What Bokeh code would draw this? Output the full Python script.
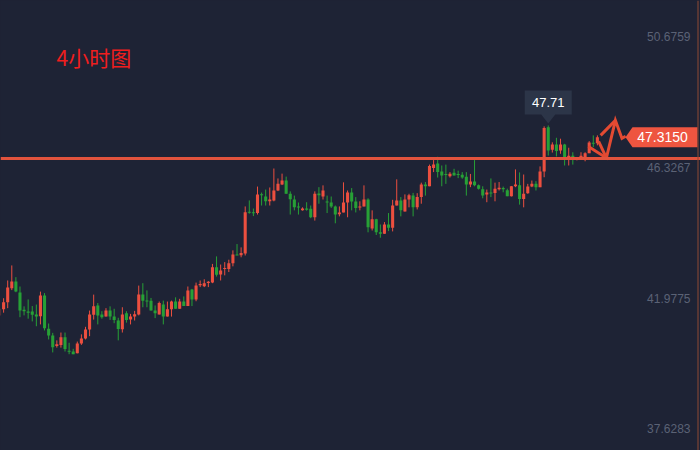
import numpy as np
from bokeh.plotting import figure
from bokeh.models import Range1d, Span, Label, ColumnDataSource
from bokeh.embed import file_html
from bokeh.resources import INLINE

# ---------------- data ----------------
opens = [41.40, 41.60, 41.84, 42.30, 42.53, 42.16, 41.59, 41.53, 41.53, 41.43,
         41.37, 42.06, 40.96, 40.73, 40.38, 40.42, 40.67, 40.22, 40.20, 40.14,
         40.47, 40.63, 40.93, 41.42, 41.73, 41.43, 41.36, 41.56, 41.36, 41.23,
         40.94, 41.47, 41.26, 41.36, 41.43, 42.09, 41.89, 41.89, 41.56, 41.43,
         41.76, 41.36, 41.60, 41.86, 41.62, 41.86, 41.71, 42.26, 41.93, 42.40,
         42.37, 42.48, 42.49, 43.00, 42.76, 42.94, 42.94, 43.13, 43.42, 43.40,
         43.46, 44.84, 44.82, 44.80, 45.42, 45.35, 45.19, 45.22, 45.55, 45.75,
         45.88, 45.44, 45.25, 45.02, 44.89, 44.95, 44.94, 44.66, 45.45, 45.35,
         45.18, 45.15, 45.02, 44.76, 44.82, 45.15, 45.48, 45.18, 44.99, 45.02,
         45.25, 44.29, 44.59, 44.16, 44.11, 44.42, 44.31, 45.05, 45.22, 44.85,
         45.25, 45.38, 44.99, 45.33, 45.75, 45.69, 46.30, 46.45, 46.18, 46.09,
         46.02, 46.14, 46.09, 46.07, 46.01, 45.75, 45.85, 45.72, 45.59, 45.42,
         45.48, 45.47, 45.59, 45.63, 45.56, 45.36, 45.69, 45.72, 45.27, 45.46,
         45.68, 45.77, 45.66, 46.18, 47.65, 46.90, 47.08, 46.88, 47.08, 46.64,
         46.70, 46.60, 46.66, 46.64, 46.79, 47.13, 47.12]
highs = [41.73, 41.97, 42.56, 43.06, 42.67, 42.36, 41.70, 41.93, 41.71, 41.76,
         42.19, 42.14, 41.13, 40.82, 40.57, 40.83, 40.83, 40.49, 40.29, 40.53,
         40.77, 41.02, 41.56, 42.09, 41.81, 41.54, 41.64, 41.70, 41.62, 41.32,
         41.67, 41.54, 41.45, 41.55, 42.39, 42.47, 42.23, 41.98, 41.73, 41.86,
         41.89, 41.86, 41.89, 42.00, 41.95, 42.03, 42.36, 42.28, 42.49, 42.56,
         42.60, 42.54, 43.11, 43.36, 43.09, 43.17, 43.25, 43.56, 43.77, 43.66,
         45.02, 45.22, 44.95, 45.68, 45.48, 45.58, 45.65, 46.28, 45.95, 46.11,
         46.01, 45.52, 45.38, 45.15, 44.99, 45.16, 45.05, 45.52, 45.66, 45.72,
         45.38, 45.35, 45.05, 45.02, 45.82, 45.55, 45.63, 45.33, 45.19, 45.72,
         45.29, 44.89, 44.61, 44.42, 44.50, 44.80, 45.24, 45.92, 45.33, 45.42,
         45.44, 45.47, 45.46, 45.81, 45.83, 46.41, 46.56, 46.67, 46.38, 46.41,
         46.16, 46.27, 46.21, 46.16, 46.16, 46.10, 46.56, 45.75, 45.69, 45.58,
         45.95, 45.81, 45.83, 45.68, 45.61, 45.70, 46.25, 46.15, 46.08, 45.77,
         45.88, 45.86, 46.35, 47.68, 47.71, 47.15, 47.30, 47.27, 47.10, 46.97,
         46.82, 46.66, 46.82, 46.82, 47.19, 47.38, 47.38]
lows = [41.29, 41.49, 41.64, 42.24, 42.17, 41.34, 41.40, 41.29, 41.20, 41.04,
        41.10, 40.90, 40.60, 40.17, 40.33, 40.33, 40.20, 40.11, 40.11, 40.14,
        40.42, 40.60, 40.71, 41.26, 41.10, 41.29, 41.36, 41.25, 41.14, 40.57,
        40.83, 41.16, 41.10, 41.23, 41.40, 41.67, 41.67, 41.56, 41.31, 41.43,
        41.10, 41.36, 41.36, 41.62, 41.62, 41.71, 41.71, 41.71, 41.87, 42.34,
        42.34, 42.34, 42.47, 42.69, 42.56, 42.73, 42.84, 43.03, 43.40, 43.33,
        43.39, 44.78, 44.70, 44.75, 45.05, 45.05, 45.05, 45.19, 45.53, 45.73,
        45.44, 44.75, 44.89, 44.75, 44.88, 44.88, 44.63, 44.55, 45.11, 45.25,
        44.80, 44.97, 44.46, 44.69, 44.82, 44.66, 44.89, 44.82, 44.89, 45.02,
        44.16, 44.22, 44.07, 43.98, 44.11, 44.20, 44.19, 45.05, 44.69, 44.85,
        44.99, 44.69, 44.92, 45.11, 45.38, 45.69, 46.16, 45.98, 45.69, 45.77,
        45.98, 46.05, 45.96, 45.94, 45.38, 45.66, 45.69, 45.58, 45.29, 45.16,
        45.33, 45.19, 45.55, 45.49, 45.36, 45.35, 45.66, 45.08, 44.99, 45.44,
        45.66, 45.55, 45.66, 45.99, 46.71, 46.81, 46.68, 46.77, 46.38, 46.38,
        46.41, 46.55, 46.64, 46.52, 46.79, 46.99, 47.05]
closes = [41.62, 41.84, 42.33, 42.53, 42.19, 41.56, 41.54, 41.49, 41.42, 41.36,
          42.06, 40.97, 40.73, 40.34, 40.44, 40.67, 40.28, 40.20, 40.11, 40.47,
          40.63, 40.93, 41.43, 41.70, 41.40, 41.34, 41.56, 41.36, 41.25, 40.95,
          41.43, 41.25, 41.36, 41.44, 42.09, 41.89, 41.87, 41.56, 41.47, 41.81,
          41.36, 41.60, 41.86, 41.62, 41.86, 41.71, 42.23, 41.93, 42.39, 42.44,
          42.47, 42.52, 43.00, 42.75, 42.89, 42.97, 43.13, 43.42, 43.40, 43.47,
          44.83, 44.81, 44.80, 45.42, 45.39, 45.19, 45.25, 45.55, 45.77, 45.88,
          45.44, 45.26, 44.99, 44.99, 44.95, 44.91, 44.66, 45.44, 45.39, 45.55,
          45.15, 45.02, 44.75, 44.82, 45.15, 45.48, 45.18, 44.97, 45.02, 45.25,
          44.33, 44.59, 44.16, 44.11, 44.42, 44.31, 45.05, 45.22, 44.89, 45.25,
          45.39, 44.99, 45.33, 45.75, 45.69, 46.36, 46.41, 46.16, 46.05, 46.07,
          46.11, 46.05, 46.07, 45.98, 45.75, 45.85, 45.72, 45.61, 45.38, 45.48,
          45.46, 45.61, 45.64, 45.59, 45.36, 45.69, 45.75, 45.27, 45.44, 45.68,
          45.77, 45.66, 46.18, 47.63, 46.88, 47.08, 46.86, 47.08, 46.64, 46.70,
          46.64, 46.62, 46.70, 46.79, 47.14, 47.11, 47.315]

axis_ticks = [50.6759, 46.3267, 41.9775, 37.6283]
last_price = 47.3150
level_price = 46.61
title_text = "4小时图"
# hand-drawn zigzag annotation (candle index, price)
zig_xs = [[143.8, 148.2, 150.4, 152.0, 152.9], [146.3, 148.2], [146.8, 150.4]]
zig_ys = [[47.01, 46.63, 47.88, 47.28, 47.35], [47.18, 46.63], [47.38, 47.88]]

# ---------------- layout ----------------
W, H = 700, 450
X0, X1 = 0.2442, 171.18
Y0, Y1 = 36.911, 51.862
dx = (X1 - X0) / W
dy = (Y1 - Y0) / H

BG = "#1e2335"
UP = "#ec4f3f"
DOWN = "#27a036"

p = figure(width=W, height=H, x_range=Range1d(X0, X1), y_range=Range1d(Y0, Y1),
           x_axis_type=None, y_axis_type=None, toolbar_location=None,
           output_backend="svg", min_border=0,
           background_fill_color=BG, border_fill_color=BG, outline_line_color=None)

o = np.array(opens); c = np.array(closes); h = np.array(highs); l = np.array(lows)
idx = np.arange(len(o))
up = c >= o
top = np.maximum(o, c); bot = np.minimum(o, c)
mid = (top + bot) / 2
thin = (top - bot) < dy
top = np.where(thin, mid + dy / 2, top)
bot = np.where(thin, mid - dy / 2, bot)
colors = np.where(up, UP, DOWN).tolist()

src = ColumnDataSource(dict(x=idx, top=top, bottom=bot, high=h, low=l, color=colors))
p.segment(x0="x", y0="low", x1="x", y1="high", line_color="color", line_width=1, source=src)
p.vbar(x="x", top="top", bottom="bottom", width=0.75, fill_color="color", line_color=None, source=src)

# horizontal level line
p.add_layout(Span(location=level_price, dimension="width", line_color="#e2533d", line_width=3))
# right vertical line
p.add_layout(Span(location=X0 + 697.5 * dx, dimension="height", line_color="#8f4a35", line_width=1))

# zigzag
p.multi_line(xs=zig_xs, ys=zig_ys, line_color="#e34a32", line_width=3, line_join="miter")

# last price tag
tx = [X0 + 625 * dx, X0 + 632 * dx, X0 + 697 * dx, X0 + 697 * dx, X0 + 632 * dx]
ty = [last_price, last_price + 10 * dy, last_price + 10 * dy, last_price - 10 * dy, last_price - 10 * dy]
p.patch(tx, ty, fill_color="#ee5540", line_color=None)
p.add_layout(Label(x=662, x_units="screen", y=last_price, text=f"{last_price:.4f}",
                   text_align="center", text_baseline="middle", text_color="white",
                   text_font="Liberation Sans", text_font_size="14px"))

# peak tooltip
pk = int(np.argmax(h))
ax, ay = float(pk), float(h[pk])
bx = [ax - 23.5 * dx, ax - 7 * dx, ax, ax + 7 * dx, ax + 23.5 * dx, ax + 23.5 * dx, ax - 23.5 * dx]
by = [ay + 11 * dy, ay + 11 * dy, ay + 2 * dy, ay + 11 * dy, ay + 11 * dy, ay + 35 * dy, ay + 35 * dy]
p.patch(bx, by, fill_color="#2c3548", line_color=None)
p.add_layout(Label(x=ax, y=ay + 23 * dy, text=f"{ay:.2f}", text_align="center",
                   text_baseline="middle", text_color="white",
                   text_font="Liberation Sans", text_font_size="13px"))

# price scale labels
for v in axis_ticks:
    p.add_layout(Label(x=690, x_units="screen", y=v, text=f"{v:.4f}", text_align="right",
                       text_baseline="middle", text_color="#5b6275",
                       text_font="Liberation Sans", text_font_size="12px"))

# title
p.add_layout(Label(x=56, y=394, x_units="screen", y_units="screen", text=title_text,
                   text_baseline="middle", text_color="#f01e1e",
                   text_font="Noto Sans CJK SC", text_font_size="21px"))

html = file_html(p, INLINE)
style = "<style>html,body{margin:0;padding:0;overflow:hidden;background-color:#1e2335;}</style>"
html = html.replace("</head>", style + "</head>", 1)
open("out.html", "w").write(html)
